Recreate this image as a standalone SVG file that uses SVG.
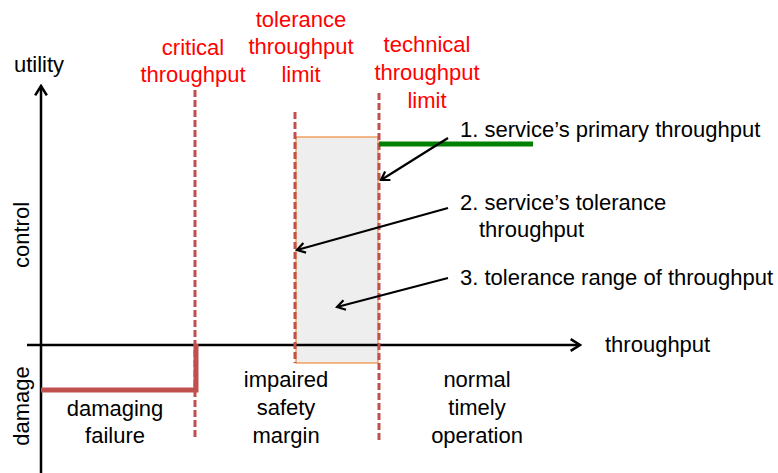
<svg xmlns="http://www.w3.org/2000/svg" width="778" height="473" viewBox="0 0 778 473">
<defs>
<marker id="ah" viewBox="0 0 12 12" refX="10" refY="6" markerWidth="12" markerHeight="12" markerUnits="userSpaceOnUse" orient="auto">
<path d="M2,1 L10,6 L2,11" fill="none" stroke="#000" stroke-width="2.2"/>
</marker>
<marker id="ah2" viewBox="0 0 12 12" refX="10" refY="6" markerWidth="14" markerHeight="14" markerUnits="userSpaceOnUse" orient="auto">
<path d="M2,1 L10,6 L2,11" fill="none" stroke="#000" stroke-width="2.2"/>
</marker>
</defs>
<style>
text{font-family:"Liberation Sans",Arial,sans-serif;font-size:22px;fill:#000}
.red{fill:#ff0000;text-anchor:middle}
.mid{text-anchor:middle}
.dash{stroke:#c0504d;stroke-width:3;stroke-dasharray:7 3;fill:none}
.axis{stroke:#000;stroke-width:2.5;fill:none}
.arr{stroke:#000;stroke-width:2.2;fill:none}
</style>
<rect width="778" height="473" fill="#fff"/>
<g id="range">
<rect x="296" y="137" width="82" height="226" fill="#eeeeee" stroke="#f08a3c" stroke-width="1.2"/>
</g>
<g id="axes">
<path class="axis" d="M41,473 V86" marker-end="url(#ah2)"/>
<path class="axis" d="M27,345 H580" marker-end="url(#ah2)"/>
<text x="14" y="72">utility</text>
<text x="605" y="352">throughput</text>
<text class="mid" transform="translate(29,235) rotate(-90)">control</text>
<text class="mid" transform="translate(29,406) rotate(-90)">damage</text>
</g>
<g id="critical">
<path class="dash" d="M195,90 V440"/>
<text class="red" x="193" y="55">critical</text>
<text class="red" x="193" y="82">throughput</text>
</g>
<g id="tolerance">
<path class="dash" d="M295,112 V363"/>
<text class="red" x="301" y="27">tolerance</text>
<text class="red" x="301" y="54">throughput</text>
<text class="red" x="301" y="82">limit</text>
</g>
<g id="technical">
<path class="dash" d="M379,93 V442"/>
<text class="red" x="427" y="52">technical</text>
<text class="red" x="427" y="80">throughput</text>
<text class="red" x="427" y="108">limit</text>
</g>
<g id="damage-curve">
<path d="M41,390 H196 V344" fill="none" stroke="#c0504d" stroke-width="5"/>
</g>
<g id="primary">
<path d="M379,144 H533" stroke="#008000" stroke-width="5"/>
</g>
<g id="connectors">
<path class="arr" d="M448,138 L381,180" marker-end="url(#ah)"/>
<path class="arr" d="M448,208 L297,250" marker-end="url(#ah)"/>
<path class="arr" d="M448,278 L337,307" marker-end="url(#ah)"/>
</g>
<g id="labels">
<text x="460" y="137">1. service’s primary throughput</text>
<text x="460" y="210">2. service’s tolerance</text>
<text x="479" y="237">throughput</text>
<text x="460" y="285">3. tolerance range of throughput</text>
</g>
<g id="regions">
<text class="mid" x="115" y="416">damaging</text>
<text class="mid" x="115" y="443">failure</text>
<text class="mid" x="286" y="387">impaired</text>
<text class="mid" x="286" y="415">safety</text>
<text class="mid" x="286" y="443">margin</text>
<text class="mid" x="477" y="387">normal</text>
<text class="mid" x="477" y="415">timely</text>
<text class="mid" x="477" y="443">operation</text>
</g>
</svg>
